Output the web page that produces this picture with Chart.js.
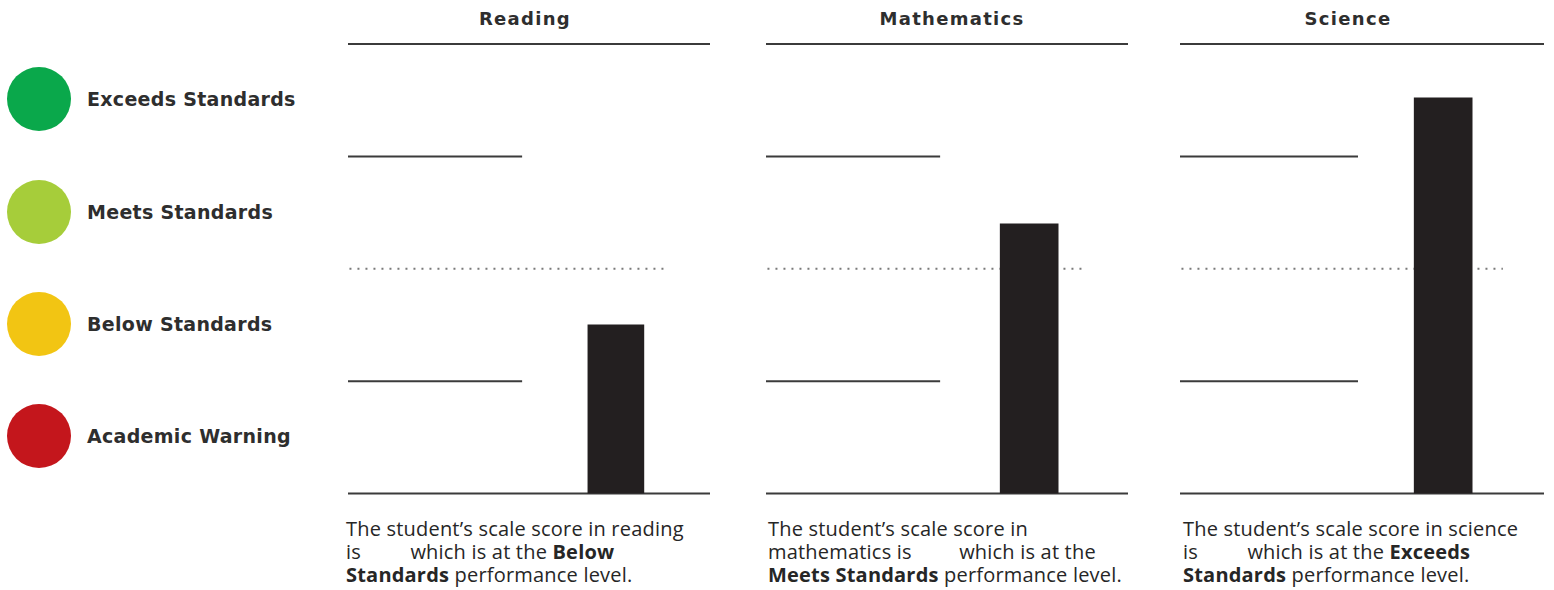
<!DOCTYPE html>
<html>
<head>
<meta charset="utf-8">
<script src="https://cdn.jsdelivr.net/npm/chart.js@4.4.1/dist/chart.umd.min.js"></script>
<style>
html,body{margin:0;padding:0;background:#fff;}
body{width:1554px;height:590px;overflow:hidden;position:relative;}
.panel{position:absolute;top:34px;height:470px;}
.title{position:absolute;top:8px;font-family:"DejaVu Sans";font-weight:bold;font-size:18px;letter-spacing:1.3px;color:#2e2e2e;text-align:center;white-space:nowrap;}
.caption{position:absolute;top:517px;font-family:"Open Sans";font-size:20px;line-height:23px;letter-spacing:0.2px;color:#262626;white-space:nowrap;}
.caption b{font-weight:700;}
.gap{display:inline-block;}
.legend-item{position:absolute;left:7px;height:64px;display:flex;align-items:center;white-space:nowrap;}
.dot{width:64px;height:64px;border-radius:50%;flex:none;}
.legend-label{margin-left:16px;font-family:"DejaVu Sans";font-weight:bold;font-size:19px;letter-spacing:0.3px;color:#2e2e2e;}
</style>
</head>
<body>
<script>
// ---- data ----
const subjects = ['Reading', 'Mathematics', 'Science'];
const scores = [37.5, 60, 88];
const scaleMax = 100;
const cutoffs = [25, 50, 75];           // boundaries between the four performance levels
const levels = ['Exceeds Standards', 'Meets Standards', 'Below Standards', 'Academic Warning'];
const levelMidpoints = [87.5, 62.5, 37.5, 12.5];
const levelColors = ['#0aa84b', '#a6cd3a', '#f2c513', '#c4161c'];
const captionLines = [
  ['The student’s scale score in reading', 'is{gap}which is at the <b>Below</b>', '<b>Standards</b> performance level.'],
  ['The student’s scale score in', 'mathematics is{gap}which is at the', '<b>Meets Standards</b> performance level.'],
  ['The student’s scale score in science', 'is{gap}which is at the <b>Exceeds</b>', '<b>Standards</b> performance level.']
];

// ---- layout / style ----
const panels = [
  {left: 348,  width: 362, barX: 74.0, barW: 56, shortEnd: 48.1, dotEnd: 88.7, gap: 44, titleShift: -4,  capLeft: 346},
  {left: 766,  width: 362, barX: 72.7, barW: 58, shortEnd: 48.1, dotEnd: 88.7, gap: 42, titleShift: 5,   capLeft: 768},
  {left: 1180, width: 364, barX: 72.3, barW: 58, shortEnd: 48.9, dotEnd: 88.7, gap: 44, titleShift: -14, capLeft: 1183}
];
const lineColor = '#3b3b3b';
const barColor = '#231f20';

Chart.defaults.font.family = 'DejaVu Sans';

let firstChart = null;
subjects.forEach((subj, i) => {
  const p = panels[i];

  const t = document.createElement('div');
  t.className = 'title';
  t.style.left = (p.left + p.titleShift) + 'px';
  t.style.width = p.width + 'px';
  t.textContent = subj;
  document.body.appendChild(t);

  const wrap = document.createElement('div');
  wrap.className = 'panel';
  wrap.style.left = p.left + 'px';
  wrap.style.width = p.width + 'px';
  const cv = document.createElement('canvas');
  wrap.appendChild(cv);
  document.body.appendChild(wrap);

  const solid = (y, x1) => ({
    type: 'line', data: [{x: 0, y: y}, {x: x1, y: y}],
    borderColor: lineColor, borderWidth: 2, pointRadius: 0, clip: false, order: 2
  });
  const datasets = [solid(scaleMax, 100), solid(0, 100)];
  cutoffs.forEach(c => {
    if (c === scaleMax / 2) {
      datasets.push({
        type: 'line', data: [{x: 0.4, y: c}, {x: p.dotEnd, y: c}],
        borderColor: '#7a7a7a', borderWidth: 2, borderDash: [2, 6], pointRadius: 0, clip: false, order: 2
      });
    } else {
      datasets.push(solid(c, p.shortEnd));
    }
  });
  datasets.push({
    type: 'bar', data: [{x: p.barX, y: scores[i]}],
    backgroundColor: barColor, borderWidth: 0, barThickness: p.barW, order: 1
  });

  const ch = new Chart(cv, {
    type: 'bar',
    data: {datasets},
    options: {
      responsive: true, maintainAspectRatio: false, animation: false,
      layout: {padding: {top: 10, bottom: 10.5, left: 0, right: 0}},
      plugins: {legend: {display: false}, tooltip: {enabled: false}, title: {display: false}},
      scales: {
        x: {type: 'linear', min: 0, max: 100, display: false, offset: false},
        y: {type: 'linear', min: 0, max: scaleMax, display: false}
      }
    }
  });
  if (i === 0) firstChart = ch;

  const cap = document.createElement('div');
  cap.className = 'caption';
  cap.style.left = p.capLeft + 'px';
  cap.innerHTML = captionLines[i]
    .map(l => l.replace('{gap}', ' <span class="gap" style="width:' + p.gap + 'px"></span>'))
    .join('<br>');
  document.body.appendChild(cap);
});

// legend, positioned on the performance-band midpoints of the y scale
levels.forEach((lv, k) => {
  const yPix = 34 + firstChart.scales.y.getPixelForValue(levelMidpoints[k]);
  const item = document.createElement('div');
  item.className = 'legend-item';
  item.style.top = (yPix - 33) + 'px';
  const d = document.createElement('div');
  d.className = 'dot';
  d.style.background = levelColors[k];
  const lab = document.createElement('span');
  lab.className = 'legend-label';
  lab.textContent = lv;
  item.appendChild(d);
  item.appendChild(lab);
  document.body.appendChild(item);
});
</script>
</body>
</html>
